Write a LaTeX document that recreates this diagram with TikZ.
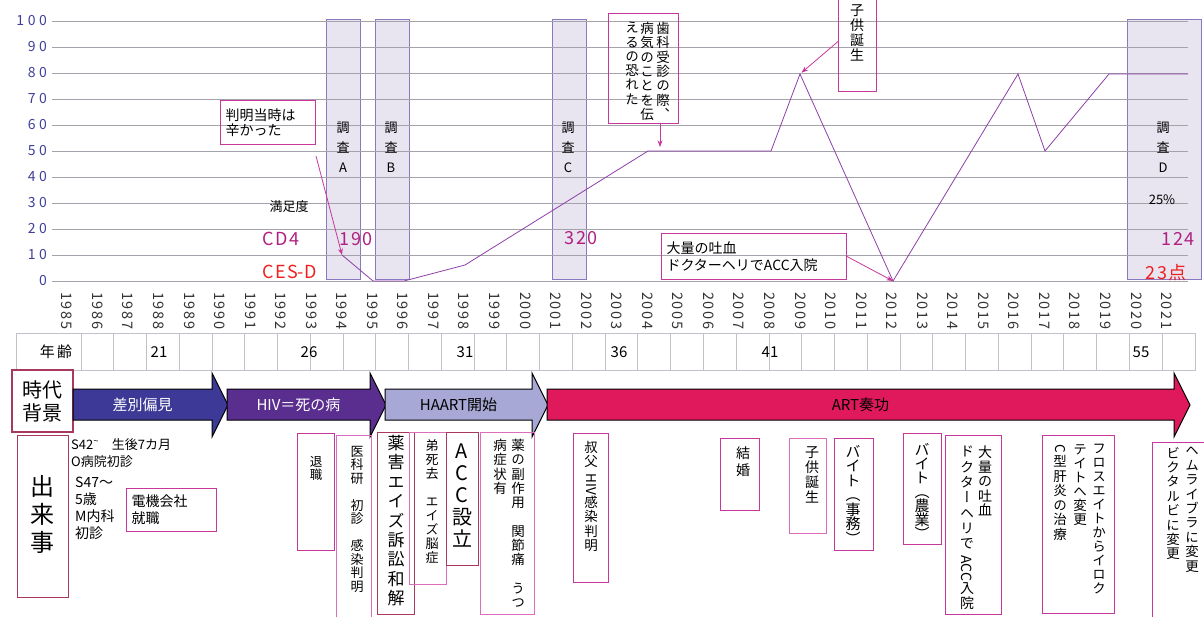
\documentclass[tikz,border=0pt]{standalone}
\usepackage{graphicx}
\usepackage{fontspec}
\setmainfont{Noto Sans CJK JP}
\newfontfamily\tatefont[RawFeature=+vert]{Noto Sans CJK JP}
\newfontfamily\widefont[LetterSpace=25]{Noto Sans CJK JP}
\newfontfamily\scorefont[LetterSpace=8]{Noto Sans CJK JP}
\newfontfamily\yearfont[LetterSpace=12]{Noto Sans CJK JP}
\usetikzlibrary{positioning,arrows.meta}

\definecolor{axisblue}{HTML}{3F3F9A}
\definecolor{gridgray}{HTML}{A4A2AA}
\definecolor{yeargray}{HTML}{333333}
\definecolor{linepurple}{HTML}{8E3FA8}
\definecolor{barfill}{HTML}{E8E4F0}
\definecolor{barline}{HTML}{8A78C0}
\definecolor{callout}{HTML}{C8389A}
\definecolor{boxdark}{HTML}{A8385C}
\definecolor{boxlight}{HTML}{DC6CBC}
\definecolor{cdfour}{HTML}{B0207F}
\definecolor{cesd}{HTML}{F02020}
\definecolor{eraA}{HTML}{3C3A96}
\definecolor{eraB}{HTML}{5A2E8E}
\definecolor{eraC}{HTML}{A8A8D6}
\definecolor{eraD}{HTML}{E0185C}
\definecolor{agegrid}{HTML}{C4C0CA}

% vertical (tategaki) column: one character per line
\makeatletter
\newcommand\tate[2][14.5pt]{\vtop{\tatefont\baselineskip=#1\relax\lineskiplimit=0pt\lineskip=1pt
    \@tfor\tate@c:=#2\do{\hbox to 1.1em{\hss\tate@c\hss}}}}
\makeatother
\newcommand\side[1]{\raisebox{.6em}{\rotatebox{-90}{#1}}}

\begin{document}
\begin{tikzpicture}[x=1pt,y=-1pt,>=Stealth,
    survey/.style={draw=barline,fill=barfill,line width=1pt,minimum width=34,minimum height=260,inner sep=0pt},
    grid line/.style={draw=gridgray,line width=0.9pt},
    axis label/.style={text=axisblue,inner sep=0pt,font=\widefont\fontsize{14}{14}\selectfont},
    year label/.style={rotate=-90,anchor=west,inner sep=0pt,text=yeargray,font=\yearfont\fontsize{14.5}{14}\selectfont},
    score/.style={inner sep=0pt,font=\scorefont\fontsize{18}{18}\selectfont},
    dataline/.style={draw=linepurple,line width=0.8pt},
    callbox/.style={draw=callout,line width=1pt,inner sep=0pt},
    callarrow/.style={->,draw=callout,line width=0.8pt},
    evbox/.style={draw=callout,line width=1pt,inner sep=0pt,anchor=north west},
    evlight/.style={evbox,draw=boxlight},
    evdark/.style={evbox,draw=boxdark,line width=1.3pt},
    tatetext/.style={anchor=north,inner sep=0pt,font=\fontsize{13.5}{15}\selectfont},
    era/.style={draw=black,line width=1pt},
    age/.style={inner sep=0pt,font=\fontsize{15}{15}\selectfont},
  ]

  \useasboundingbox (0,0) rectangle (1204,617);

  % survey bars
  \node[survey] (barA) at (343,150) {};
  \node[survey] (barB) at (392,150) {};
  \node[survey] (barC) at (569,150) {};
  \node[survey,minimum width=74] (barD) at (1164,150) {};

  \foreach \v in {0,10,...,100} {
      \draw[grid line] (52,{281-2.6*\v}) -- (1188,{281-2.6*\v});
      \node[axis label,anchor=east] (ax\v) at (47,{281-2.6*\v}) {\v};
    }

  \foreach \yr [count=\i from 0] in {1985,...,2021}
  \node[year label] (y\yr) at ({67+30.55*\i},292) {\yr};

  % satisfaction curve
  \coordinate (d1994) at (342,255);
  \coordinate (d1995) at (373,281);
  \coordinate (d1996) at (404,281);
  \coordinate (d1998) at (465,265);
  \coordinate (d2004) at (648,151);
  \coordinate (d2008) at (771,151);
  \coordinate (d2009) at (800,74);
  \coordinate (d2012) at (893,281);
  \coordinate (d2016) at (1018,74);
  \coordinate (d2017) at (1045,151);
  \coordinate (d2019) at (1109,74);
  \coordinate (dend) at (1188,74);
  \draw[dataline] (d1994) -- (d1995) -- (d1996) -- (d1998) -- (d2004) -- (d2008) -- (d2009)
  -- (d2012) -- (d2016) -- (d2017) -- (d2019) -- (dend);

  \node[tatetext,font=\fontsize{13}{15}\selectfont] (lblA) at (343,122) {\tate[20pt]{調査A}};
  \node[tatetext,font=\fontsize{13}{15}\selectfont] (lblB) at (391,122) {\tate[20pt]{調査B}};
  \node[tatetext,font=\fontsize{13}{15}\selectfont] (lblC) at (568,122) {\tate[20pt]{調査C}};
  \node[tatetext,font=\fontsize{13}{15}\selectfont] (lblD) at (1163,122) {\tate[20pt]{調査D}};

  \node[inner sep=0pt,font=\fontsize{13}{15}\selectfont] (manzoku) at (289,207) {満足度};
  \node[score,text=cdfour] (cd4) at (281,239) {CD4};
  \node[score,text=cdfour] (cdA) at (356,239) {190};
  \node[score,text=cesd] (cesd) at (290,272) {CES\kern-1.5pt-D};
  \node[score,text=cdfour] (cdC) at (581,238) {320};
  \node[inner sep=0pt,font=\fontsize{13}{15}\selectfont] (pctD) at (1162,200) {25\%};
  \node[score,text=cdfour] (cdD) at (1178,239) {124};
  \node[score,text=cesd] (cesdD) at (1166,273) {23点};

  % callouts on the chart
  \node[callbox,text width=85,minimum height=44,inner sep=5pt,align=left,anchor=north west,
    font=\fontsize{14}{15}\selectfont] (hanmei) at (220,100) {判明当時は\\辛かった};
  \draw[callarrow] ([yshift=-11pt]hanmei.south east) -- (d1994);

  \node[callbox,minimum width=70,minimum height=110,anchor=north west] (shika) at (608,13) {};
  \node[tatetext] (shikaR) at (663,22) {\tate[14.3pt]{歯科受診の際、}};
  \node[tatetext] (shikaM) at (647,22) {\tate[14.3pt]{病気のことを伝}};
  \node[tatetext] (shikaL) at (632,22) {\tate[14.3pt]{えるの恐れた}};
  \coordinate (shikaTip) at (660,147);
  \draw[callarrow] (shika.south -| shikaTip) -- (shikaTip);

  \node[callbox,minimum width=38,minimum height=100,anchor=south west] (kodomoTop) at (838,92) {};
  \node[tatetext,font=\fontsize{14}{15}\selectfont] (kodomoTopT) at (857,4) {\tate[15pt]{子供誕生}};
  \draw[callarrow,shorten >=2pt] (kodomoTop.west) -- (d2009);

  \node[callbox,text width=175,minimum height=46,inner sep=5pt,align=left,anchor=north west,
    font=\fontsize{14}{17}\selectfont] (tokketsu) at (661,233) {大量の吐血\\ドクターヘリでACC入院};
  \draw[callarrow] (tokketsu.east) -- (d2012);

  % age row
  \node[draw=agegrid,line width=0.9pt,minimum width=1179,minimum height=37,inner sep=0pt,anchor=north west] (agerow) at (16,333) {};
  \foreach \k in {0,...,33}
  \draw[draw=agegrid,line width=0.9pt] ({81+32.76*\k},333) -- ({81+32.76*\k},370);
  \node[age] (age0) at (56,352) {年\,齢};
  \node[age] (age21) at (159,352) {21};
  \node[age] (age26) at (309,352) {26};
  \node[age] (age31) at (465,352) {31};
  \node[age] (age36) at (619,352) {36};
  \node[age] (age41) at (770,352) {41};
  \node[age] (age55) at (1141,352) {55};

  % era arrows
  \node[draw=boxdark,line width=1.3pt,minimum width=61,minimum height=62,inner sep=0pt,align=center,
    font=\fontsize{20}{23}\selectfont] (jidai) at (42.5,401) {時代\\背景};
  \foreach \xa/\xb/\col/\txt/\tc [count=\i] in {73/228/eraA/差別偏見/white,227/386/eraB/HIV＝死の病/white,
      385/548/eraC/HAART開始/black,547/1190/eraD/ART奏功/black} {
      \draw[era,fill=\col] (\xa,389) -- ({\xb-16},389) -- ({\xb-16},373) -- (\xb,405)
      -- ({\xb-16},437) -- ({\xb-16},420) -- (\xa,420) -- cycle;
      \node[text=\tc,inner sep=0pt,font=\fontsize{15}{15}\selectfont] (era\i) at ({(\xa+\xb-16)/2},404.5) {\txt};
    }

  % events
  \node[evdark,minimum width=51,minimum height=162] (dekigoto) at (17,435) {};
  \node[tatetext,font=\fontsize{24}{28}\selectfont] (dekigotoT) at (42.5,475) {\tate[28pt]{出来事}};

  \node[inner sep=0pt,anchor=north west,align=left,font=\fontsize{13}{17}\selectfont] (s42)
  at (71,438) {S42\textsuperscript{\textasciitilde}\quad 生後7カ月\\O病院初診};
  \node[inner sep=0pt,anchor=north west,align=left,font=\fontsize{14}{17}\selectfont] (s47)
  at (75,477) {S47～\\5歳\\M内科\\初診};
  \node[evbox,text width=80,minimum height=43,inner sep=5pt,align=left,
    font=\fontsize{14}{17}\selectfont] (denki) at (126,488) {電機会社\\就職};

  \node[evbox,minimum width=37,minimum height=117] (taishoku) at (297,433) {};
  \node[tatetext,font=\fontsize{12.5}{15}\selectfont] (taishokuT) at (316,456) {\tate[13pt]{退職}};

  \node[evlight,minimum width=35,minimum height=190] (ikaken) at (336,435) {};
  \node[tatetext,font=\fontsize{13}{15}\selectfont] (ikakenT) at (357,446) {\tate[13.5pt]{医科研　初診　感染判明}};

  \node[evdark,minimum width=37,minimum height=182] (yakugai) at (377,432) {};
  \node[tatetext,font=\fontsize{17}{19}\selectfont] (yakugaiT) at (396,435) {\tate[19.4pt]{薬害エイズ訴訟和解}};

  \node[evlight,minimum width=37,minimum height=152] (otouto) at (409,432) {};
  \node[tatetext,font=\fontsize{13}{15}\selectfont] (otoutoT) at (432,439) {\tate[14pt]{弟死去　エイズ脳症}};

  \node[evdark,minimum width=32,minimum height=133] (acc) at (446,432) {};
  \node[tatetext,font=\fontsize{20}{22}\selectfont] (accT) at (462,444) {\tate[22pt]{ACC設立}};

  \node[evlight,minimum width=54,minimum height=182] (fukusayo) at (480,432) {};
  \node[tatetext] (fukusayoR) at (518,439) {\tate[14.3pt]{薬の副作用　関節痛　うつ}};
  \node[tatetext] (fukusayoL) at (500,439) {\tate[14.3pt]{病症状有}};

  \node[evbox,minimum width=35,minimum height=149] (oji) at (573,433) {};
  \node[tatetext] (ojiT) at (591,441) {\tate[14.5pt]{叔父{\side{HIV}}感染判明}};

  \node[evbox,minimum width=39,minimum height=72] (kekkon) at (720,438) {};
  \node[tatetext,font=\fontsize{14}{15}\selectfont] (kekkonT) at (743,447) {\tate[16.5pt]{結婚}};

  \node[evlight,minimum width=37,minimum height=95] (kodomo) at (789,438) {};
  \node[tatetext,font=\fontsize{14}{15}\selectfont] (kodomoT) at (812,446) {\tate[15pt]{子供誕生}};

  \node[evbox,minimum width=39,minimum height=112] (baitoA) at (834,438) {};
  \node[tatetext,font=\fontsize{15}{16}\selectfont] (baitoAT) at (853,445) {\tate[14.5pt]{バイト（事務）}};

  \node[evbox,minimum width=38,minimum height=111] (baitoB) at (903,433) {};
  \node[tatetext,font=\fontsize{15}{16}\selectfont] (baitoBT) at (922,443) {\tate[14pt]{バイト（農業）}};

  \node[evbox,minimum width=56,minimum height=179] (tokketsuB) at (945,435) {};
  \node[tatetext,font=\fontsize{14}{15}\selectfont] (tokketsuR) at (985,446) {\tate[14.5pt]{大量の吐血}};
  \node[tatetext,font=\fontsize{14}{15}\selectfont] (tokketsuL) at (967,446) {\tate[15.3pt]{ドクターヘリで{\side{ACC}}入院}};

  \node[evbox,minimum width=72,minimum height=178] (furosu) at (1042,435) {};
  \node[tatetext] (furosuR) at (1099,444) {\tate[14pt]{フロスエイトからイロク}};
  \node[tatetext] (furosuM) at (1080,444) {\tate[14pt]{テイトへ変更}};
  \node[tatetext] (furosuL) at (1060,444) {\tate[14.5pt]{{\side{C}}型肝炎の治療}};

  \node[evbox,minimum width=60,minimum height=188] (hemu) at (1152,442) {};
  \node[tatetext] (hemuR) at (1192,447) {\tate[14.4pt]{ヘムライブラに変更}};
  \node[tatetext] (hemuL) at (1173,447) {\tate[14.4pt]{ビクタルビに変更}};

\end{tikzpicture}
\end{document}
